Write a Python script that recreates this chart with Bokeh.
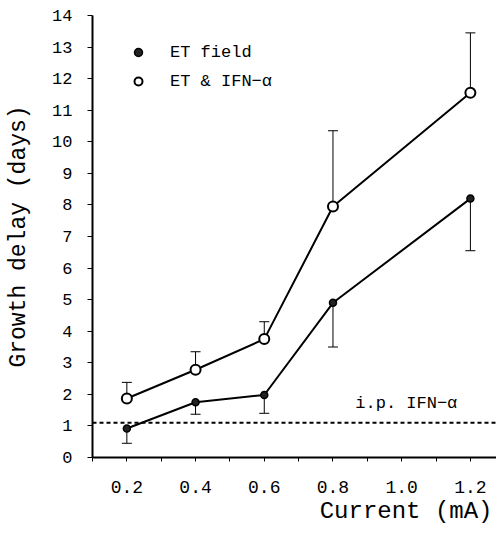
from bokeh.plotting import figure
from bokeh.models import (ColumnDataSource, FixedTicker, Range1d, Span, Label,
                          Legend, LegendItem, Title, CustomJSTickFormatter)
from bokeh.embed import file_html
from bokeh.resources import INLINE

current = [0.2, 0.4, 0.6, 0.8, 1.2]
et_field = [0.92, 1.75, 1.98, 4.9, 8.2]
et_field_low = [0.45, 1.37, 1.4, 3.5, 6.55]
et_ifn = [1.87, 2.78, 3.75, 7.95, 11.55]
et_ifn_high = [2.38, 3.35, 4.3, 10.35, 13.45]
ip_ifn_level = 1.1
x_ticks = [0.2, 0.4, 0.6, 0.8, 1.0, 1.2]
x_minor = [0.1, 0.3, 0.5, 0.7, 0.9, 1.1]
y_ticks = list(range(0, 15))

FONT = "Liberation Mono"

p = figure(width=496, height=525, output_backend="svg", toolbar_location=None,
           x_range=Range1d(0.1, 1.276), y_range=Range1d(0, 14),
           min_border_left=92, min_border_right=0, min_border_top=15, min_border_bottom=68)
p.outline_line_color = None
p.grid.visible = False

src1 = ColumnDataSource(dict(x=current, y=et_field, lo=et_field_low))
src2 = ColumnDataSource(dict(x=current, y=et_ifn, hi=et_ifn_high))

# error bars
p.segment(x0="x", y0="y", x1="x", y1="lo", source=src1, line_color="black", line_width=1)
p.scatter(x="x", y="lo", source=src1, marker="dash", size=10, line_color="black", line_width=1)
p.segment(x0="x", y0="y", x1="x", y1="hi", source=src2, line_color="black", line_width=1)
p.scatter(x="x", y="hi", source=src2, marker="dash", size=10, line_color="black", line_width=1)

# reference line
p.add_layout(Span(location=ip_ifn_level, dimension="width", line_color="black",
                  line_width=1.8, line_dash="4 3"))
p.add_layout(Label(x=0.865, y=ip_ifn_level + 0.3, text="i.p. IFN−α", text_font=FONT,
                   text_font_size="17px", text_color="black"))

p.line(x="x", y="y", source=src1, line_color="black", line_width=2)
p.line(x="x", y="y", source=src2, line_color="black", line_width=2)
r1 = p.scatter(x="x", y="y", source=src1, marker="circle", size=7, fill_color="#222222",
               line_color="black", line_width=1.5)
r2 = p.scatter(x="x", y="y", source=src2, marker="circle", size=10, fill_color="white",
               line_color="black", line_width=2)

legend = Legend(items=[LegendItem(label="ET field", renderers=[r1]),
                       LegendItem(label="ET & IFN−α", renderers=[r2])],
                location=(36, 366), border_line_color=None, background_fill_alpha=0,
                padding=0, margin=0, spacing=9, glyph_width=20, glyph_height=20,
                label_standoff=22, label_text_font=FONT, label_text_font_size="17px",
                label_text_color="black")
p.add_layout(legend)

# axes
for ax in (p.xaxis[0], p.yaxis[0]):
    ax.axis_line_width = 2
    ax.axis_line_color = "black"
    ax.major_tick_line_color = "black"
    ax.minor_tick_line_color = "black"
    ax.major_label_text_font = FONT
    ax.major_label_text_font_size = "17px"
    ax.major_label_text_color = "black"
    ax.axis_label_text_font = FONT
    ax.axis_label_text_font_style = "normal"
    ax.axis_label_text_color = "black"

p.xaxis.ticker = FixedTicker(ticks=x_ticks, minor_ticks=x_minor)
p.xaxis.formatter = CustomJSTickFormatter(code="return tick.toFixed(1);")
p.xaxis.major_label_text_font_size = "18px"
p.xaxis.major_tick_in = 0
p.xaxis.major_tick_out = 4
p.xaxis.minor_tick_in = 0
p.xaxis.minor_tick_out = 4
p.xaxis.major_label_standoff = 19

p.yaxis.ticker = FixedTicker(ticks=y_ticks, minor_ticks=[])
p.yaxis.major_tick_in = 0
p.yaxis.major_tick_out = 5
p.yaxis.major_label_standoff = 15
p.yaxis.axis_label = "Growth delay (days)"
p.yaxis.axis_label_text_font_size = "23px"
p.yaxis.axis_label_standoff = 17

p.add_layout(Title(text="Current (mA)", align="right", text_font=FONT,
                   text_font_size="24px", text_font_style="normal", text_color="black",
                   offset=4, standoff=0), "below")

open("out.html", "w").write(file_html(p, INLINE))
